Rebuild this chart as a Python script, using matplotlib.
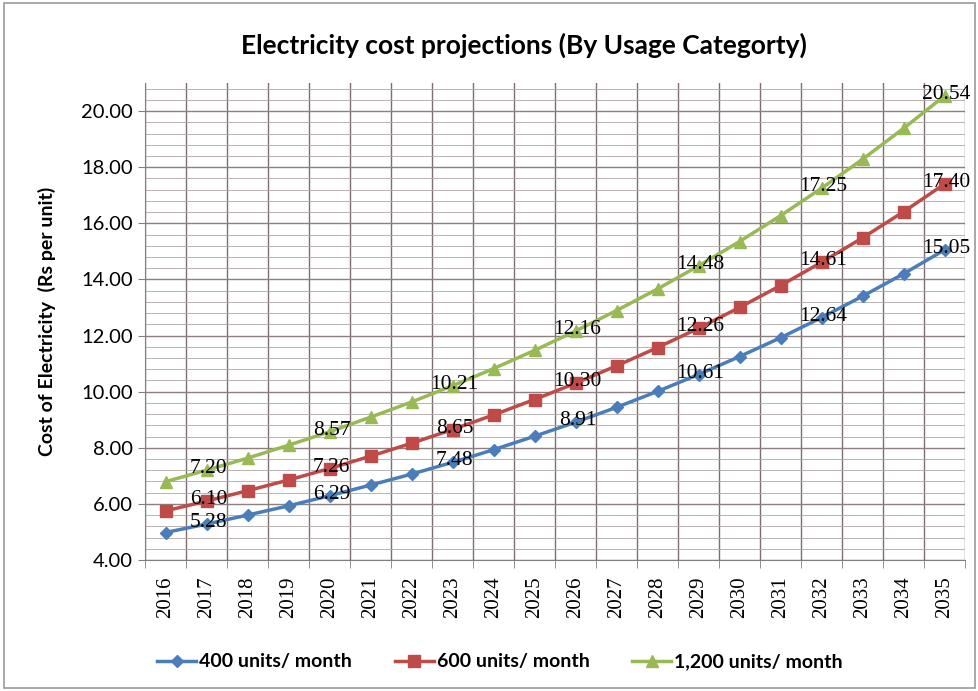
import matplotlib
matplotlib.use("Agg")
import matplotlib.pyplot as plt
from matplotlib.ticker import MultipleLocator, FixedLocator
from matplotlib.patches import Rectangle

years = [str(y) for y in range(2016, 2036)]
s400 = [4.98, 5.28, 5.60, 5.93, 6.29, 6.67, 7.06, 7.48, 7.93, 8.41, 8.91, 9.44, 10.01, 10.61, 11.25, 11.92, 12.64, 13.40, 14.20, 15.05]
s600 = [5.75, 6.10, 6.47, 6.85, 7.26, 7.70, 8.16, 8.65, 9.17, 9.72, 10.30, 10.92, 11.57, 12.26, 13.00, 13.78, 14.61, 15.48, 16.41, 17.40]
s1200 = [6.79, 7.20, 7.63, 8.09, 8.57, 9.09, 9.63, 10.21, 10.82, 11.47, 12.16, 12.89, 13.66, 14.48, 15.35, 16.27, 17.25, 18.28, 19.38, 20.54]
labels = ["400 units/ month", "600 units/ month", "1,200 units/ month"]
label_idx = [1, 4, 7, 10, 13, 16, 19]

W, H = 979, 691
fig = plt.figure(figsize=(W / 100, H / 100), dpi=100)
fig.patches.append(Rectangle((0.004, 0.004), 0.992, 0.992, transform=fig.transFigure,
                             fill=False, edgecolor="#9a9a9a", linewidth=1.2))
ax = fig.add_axes([145 / W, 1 - 560 / H, (965 - 145) / W, (560 - 83) / H])

x = list(range(len(years)))
series = [(s400, "#4A7EBB", "D", 6), (s600, "#BE4B48", "s", 8), (s1200, "#98B954", "^", 8)]
for (vals, c, m, ms), lab in zip(series, labels):
    ax.plot(x, vals, color=c, marker=m, markersize=ms, linewidth=2.5, label=lab, zorder=3)
    for i in label_idx:
        ax.text(x[i] + 0.05, vals[i] + 0.05, f"{vals[i]:.2f}", ha="center", va="center",
                fontsize=15.5, family="Liberation Serif", color="black", zorder=4)

ax.set_xlim(-0.5, len(years) - 0.5)
ax.set_ylim(4, 21)
ax.yaxis.set_major_locator(FixedLocator([4, 6, 8, 10, 12, 14, 16, 18, 20]))
ax.yaxis.set_minor_locator(MultipleLocator(0.4))
ax.set_yticklabels([f"{v:.2f}" for v in [4, 6, 8, 10, 12, 14, 16, 18, 20]],
                   fontsize=14.5, family="Lato")
ax.set_xticks(x)
ax.set_xticklabels(years, rotation=90, fontsize=15, family="Liberation Serif")
ax.xaxis.set_minor_locator(FixedLocator([i - 0.5 for i in range(len(years) + 1)]))
ax.tick_params(axis="x", which="major", length=0, pad=12)
ax.tick_params(axis="x", which="minor", length=6, color="#808080")
ax.tick_params(axis="y", which="major", length=5, color="#808080", pad=4)
ax.tick_params(axis="y", which="minor", length=0)
ax.grid(which="major", axis="y", color="#8c7f7f", linewidth=1.0)
ax.grid(which="minor", axis="y", color="#b0a6a6", linewidth=0.6)
ax.grid(which="minor", axis="x", color="#7d6f6f", linewidth=1.0)
ax.set_axisbelow(True)
for sp in ["top", "right"]:
    ax.spines[sp].set_visible(False)
for sp in ["left", "bottom"]:
    ax.spines[sp].set_color("#808080")

ax.set_ylabel("Cost of Electricity  (Rs per unit)", fontsize=14, fontweight="bold",
              family="Lato", labelpad=18)
fig.text(0.535, 1 - 45 / H, "Electricity cost projections (By Usage Categorty)",
         ha="center", va="center", fontsize=19, fontweight="bold", family="Lato")
fig.legend(loc="center", bbox_to_anchor=(500 / W, 1 - 662 / H), ncol=3, frameon=False,
           prop={"family": "Lato", "size": 14, "weight": "bold"}, handlelength=2.0,
           columnspacing=2.2, handletextpad=0.15)

fig.savefig("out.png", dpi=100, facecolor="white")
